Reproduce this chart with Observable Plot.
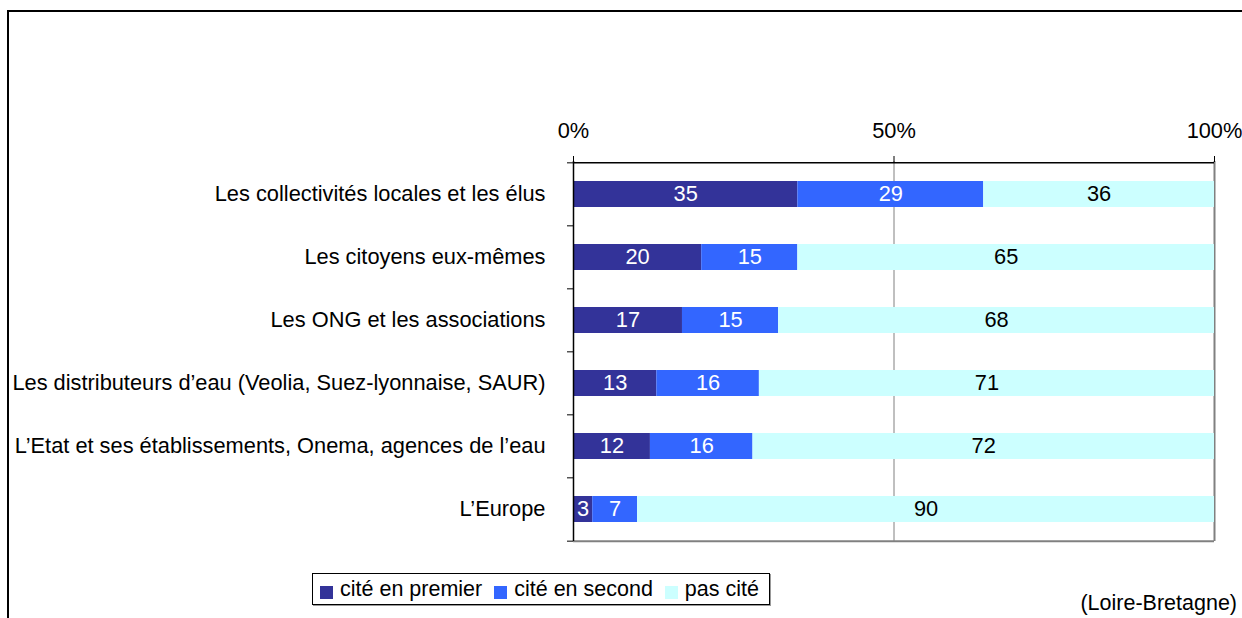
<!DOCTYPE html>
<html>
<head>
<meta charset="utf-8">
<script src="https://cdn.jsdelivr.net/npm/d3@7"></script>
<script src="https://cdn.jsdelivr.net/npm/@observablehq/plot@0.6"></script>
<style>
  html, body { margin: 0; padding: 0; background: #fff; overflow: hidden; }
  #wrap { position: relative; width: 1242px; height: 618px; overflow: hidden;
          font-family: "Liberation Sans", Arial, sans-serif; color: #000; }
  #border { position: absolute; left: 7px; top: 10px; width: 1300px; height: 700px;
            border-top: 2px solid #000; border-left: 2px solid #000; box-sizing: border-box; }
  #chart { position: absolute; left: 0; top: 0; }
  #legend { position: absolute; left: 312px; top: 573px; width: 458px; height: 32px;
            border: 1px solid #000; box-shadow: 1px 1px 0 #999; box-sizing: border-box;
            display: flex; align-items: center; padding-left: 7px; font-size: 21.5px; background: #fff;
            white-space: nowrap; }
  .item { display: flex; align-items: center; margin-right: 12px; white-space: nowrap; flex: none; }
  .sw { width: 13px; height: 13px; margin-right: 7px; margin-top: 6px; flex: none; }
  #caption { position: absolute; right: 5px; top: 591px; font-size: 21.5px; white-space: nowrap; }
</style>
</head>
<body>
<div id="wrap">
  <div id="border"></div>
  <div id="chart"></div>
  <div id="legend"></div>
  <div id="caption">(Loire-Bretagne)</div>
</div>
<script>
const categories = [
  "Les collectivités locales et les élus",
  "Les citoyens eux-mêmes",
  "Les ONG et les associations",
  "Les distributeurs d’eau (Veolia, Suez-lyonnaise, SAUR)",
  "L’Etat et ses établissements, Onema, agences de l’eau",
  "L’Europe"
];
const seriesNames = ["cité en premier", "cité en second", "pas cité"];
const premier = [35, 20, 17, 13, 12, 3];
const second  = [29, 15, 15, 16, 16, 7];
const pasCite = [36, 65, 68, 71, 72, 90];
const colors = ["#333399", "#3366FF", "#CCFFFF"];
const xTicks = [0, 50, 100];

const seriesValues = [premier, second, pasCite];
const data = categories.flatMap((c, i) =>
  seriesValues.map((arr, j) => ({cat: c, series: seriesNames[j], idx: j, value: arr[i]}))
);

const W = 1242, H = 560, mT = 161, mB = 19, mL = 573, mR = 28;
const step = (H - mT - mB) / categories.length;
const FS = 21.8;

const stackOpts = {x: "value", y: "cat", z: "series", order: seriesNames};

const chart = Plot.plot({
  width: W, height: H,
  marginTop: mT, marginBottom: mB, marginLeft: mL, marginRight: mR,
  style: {fontFamily: "Liberation Sans, Arial, sans-serif", fontSize: FS + "px", color: "#000", background: "transparent", overflow: "visible"},
  x: {domain: [0, 100], axis: null},
  y: {domain: categories, paddingInner: 0.59, paddingOuter: 0.295, axis: null},
  color: {domain: seriesNames, range: colors},
  marks: [
    Plot.ruleX([50], {stroke: "#808080", strokeWidth: 1}),
    Plot.ruleX([100], {stroke: "#808080", strokeWidth: 2}),
    Plot.barX(data, Plot.stackX({...stackOpts, fill: "series"})),
    Plot.text(data, Plot.stackX({...stackOpts, text: d => d.idx < 2 ? String(d.value) : "", fill: "white", fontSize: FS})),
    Plot.text(data, Plot.stackX({...stackOpts, text: d => d.idx === 2 ? String(d.value) : "", fill: "black", fontSize: FS})),
    Plot.ruleY([categories[0]], {dy: -step / 2, stroke: "#000", strokeWidth: 1.5}),
    Plot.ruleY([categories[categories.length - 1]], {dy: step / 2, stroke: "#808080", strokeWidth: 2}),
    Plot.ruleX([0], {stroke: "#000", strokeWidth: 1.5}),
    Plot.axisX({anchor: "top", ticks: xTicks, tickFormat: d => d + "%", tickSize: 6, tickPadding: 18, label: null, stroke: "#000", fill: "#000"}),
    Plot.axisY({anchor: "left", tickSize: 0, tickPadding: 28, label: null, fill: "#000"}),
    Plot.axisY({anchor: "left", tickSize: 6, text: null, label: null, dy: -step / 2, stroke: "#000"}),
    Plot.axisY([categories[categories.length - 1]], {anchor: "left", tickSize: 6, text: null, label: null, dy: step / 2, stroke: "#000"})
  ]
});
document.getElementById("chart").appendChild(chart);

const legend = document.getElementById("legend");
seriesNames.forEach((name, i) => {
  const item = document.createElement("div");
  item.className = "item";
  const sw = document.createElement("div");
  sw.className = "sw";
  sw.style.background = colors[i];
  const label = document.createElement("span");
  label.textContent = name;
  item.appendChild(sw);
  item.appendChild(label);
  legend.appendChild(item);
});
</script>
</body>
</html>
